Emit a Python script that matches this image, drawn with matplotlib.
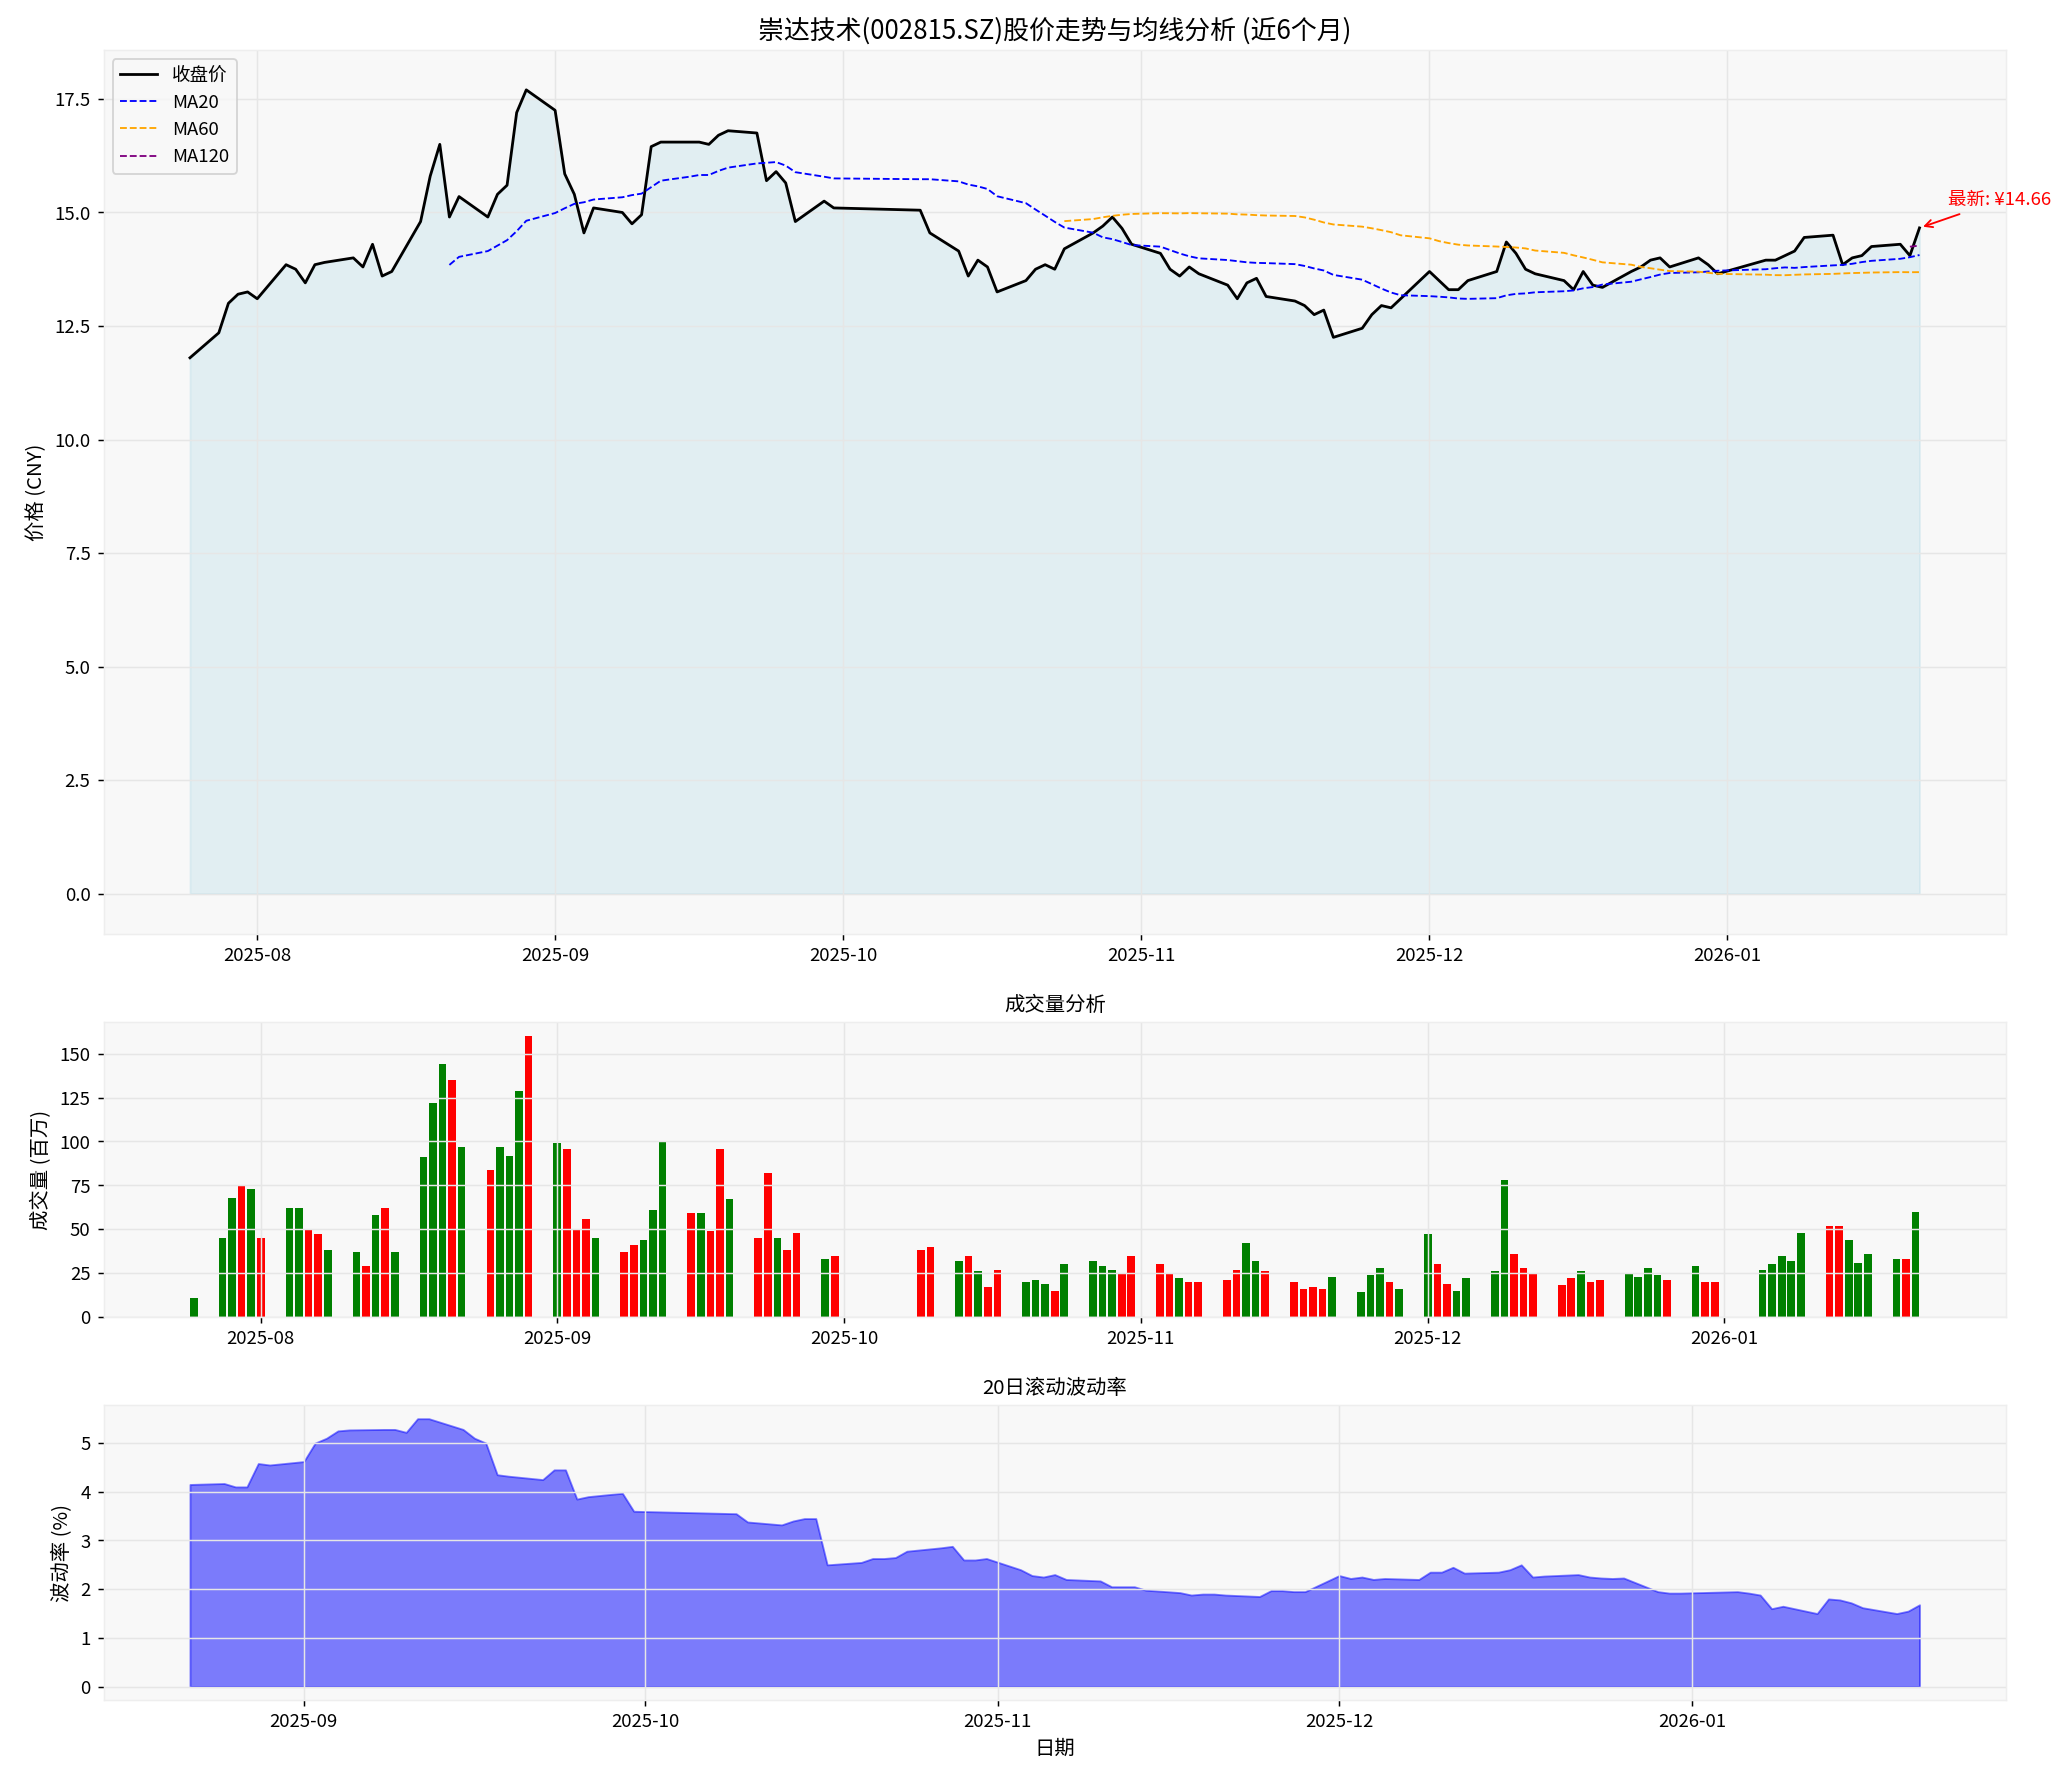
import matplotlib
matplotlib.use("Agg")
import matplotlib.pyplot as plt
import matplotlib.dates as mdates
import numpy as np
import pandas as pd

plt.rcParams['font.family'] = ['Noto Sans CJK SC', 'DejaVu Sans']
plt.rcParams['axes.unicode_minus'] = False

# trading calendar (China A-share), 2025-07-25 .. 2026-01-21
holidays = pd.to_datetime(['2025-10-01', '2025-10-02', '2025-10-03', '2025-10-06',
                           '2025-10-07', '2025-10-08', '2026-01-01', '2026-01-02'])
dates = pd.bdate_range('2025-07-25', '2026-01-21')
dates = dates[~dates.isin(holidays)]

close = [
    11.8,
    12.35, 13.0, 13.2, 13.25, 13.1,
    13.85, 13.75, 13.45, 13.85, 13.9,
    14.0, 13.8, 14.3, 13.6, 13.7,
    14.8, 15.8, 16.5, 14.9, 15.35,
    14.9, 15.4, 15.6, 17.2, 17.7,
    17.25, 15.85, 15.4, 14.55, 15.1,
    15.0, 14.75, 14.95, 16.45, 16.55,
    16.55, 16.55, 16.5, 16.7, 16.8,
    16.75, 15.7, 15.9, 15.65, 14.8,
    15.25, 15.1,
    15.05, 14.55,
    14.15, 13.6, 13.95, 13.8, 13.25,
    13.5, 13.75, 13.85, 13.75, 14.2,
    14.55, 14.7, 14.9, 14.65, 14.3,
    14.1, 13.75, 13.6, 13.8, 13.65,
    13.4, 13.1, 13.45, 13.55, 13.15,
    13.05, 12.95, 12.75, 12.85, 12.25,
    12.45, 12.75, 12.95, 12.9, 13.1,
    13.7, 13.5, 13.3, 13.3, 13.5,
    13.7, 14.35, 14.1, 13.75, 13.65,
    13.5, 13.3, 13.7, 13.4, 13.35,
    13.7, 13.8, 13.95, 14.0, 13.8,
    14.0, 13.85, 13.65,
    13.95, 13.95, 14.05, 14.15, 14.45,
    14.5, 13.85, 14.0, 14.05, 14.25,
    14.3, 14.05, 14.66,
]

volume = [
    11,
    45, 68, 75, 73, 45,
    62, 62, 50, 47, 38,
    37, 29, 58, 62, 37,
    91, 122, 144, 135, 97,
    84, 97, 92, 129, 160,
    99, 96, 50, 56, 45,
    37, 41, 44, 61, 100,
    59, 59, 49, 96, 67,
    45, 82, 45, 38, 48,
    33, 35,
    38, 40,
    32, 35, 26, 17, 27,
    20, 21, 19, 15, 30,
    32, 29, 27, 25, 35,
    30, 25, 22, 20, 20,
    21, 27, 42, 32, 26,
    20, 16, 17, 16, 23,
    14, 24, 28, 20, 16,
    47, 30, 19, 15, 22,
    26, 78, 36, 28, 25,
    18, 22, 26, 20, 21,
    25, 23, 28, 24, 21,
    29, 20, 20,
    27, 30, 35, 32, 48,
    52, 52, 44, 31, 36,
    33, 33, 60,
]

# G = up day (green), R = down day (red)
vol_colors = ("G" "GGRGR" "GGRRG" "GRGRG" "GGGRG" "RGGGR" "GRRRG" "RRGGG" "RGRRG"
              "RRGRR" "GR" "RR" "GRGRR" "GGGRG" "GGGRR" "RRGRR" "RRGGR" "RRRRG"
              "GGGRG" "GRRGG" "GGRRR" "RRGRR" "GGGGR" "GRR" "GGGGG" "RRGGG" "GRG")

volatility = [
    4.15,
    4.17, 4.1, 4.1, 4.58, 4.55,
    4.62, 5.0, 5.1, 5.25, 5.27,
    5.28, 5.28, 5.22, 5.5, 5.5,
    5.28, 5.1, 5.0, 4.35, 4.32,
    4.25, 4.45, 4.45, 3.85, 3.9,
    3.97, 3.6,
    3.55, 3.38,
    3.32, 3.4, 3.45, 3.45, 2.5,
    2.55, 2.63, 2.63, 2.65, 2.78,
    2.85, 2.88, 2.6, 2.6, 2.63,
    2.4, 2.28, 2.25, 2.3, 2.2,
    2.17, 2.05, 2.05, 2.05, 1.98,
    1.93, 1.88, 1.9, 1.9, 1.88,
    1.85, 1.97, 1.97, 1.95, 1.95,
    2.28, 2.22, 2.25, 2.2, 2.22,
    2.2, 2.35, 2.35, 2.45, 2.33,
    2.35, 2.4, 2.5, 2.25, 2.27,
    2.3, 2.25, 2.23, 2.22, 2.23,
    1.95, 1.92, 1.92,
    1.95, 1.92, 1.88, 1.6, 1.65,
    1.5, 1.8, 1.78, 1.72, 1.62,
    1.5, 1.55, 1.68,
]

df = pd.DataFrame({'close': close, 'volume': volume}, index=dates)
df['MA20'] = df['close'].rolling(20).mean()
df['MA60'] = df['close'].rolling(60).mean()
df['MA120'] = df['close'].rolling(120).mean()
vol_dates = dates[len(dates) - len(volatility):]

fig = plt.figure(figsize=(15.53, 13.37), dpi=133.3)
gs = fig.add_gridspec(3, 1, height_ratios=[3, 1, 1], hspace=0.18,
                      left=0.05, right=0.969, top=0.972, bottom=0.046)
ax1 = fig.add_subplot(gs[0])
ax2 = fig.add_subplot(gs[1])
ax3 = fig.add_subplot(gs[2])

for ax in (ax1, ax2, ax3):
    ax.set_facecolor('#f8f8f8')
    ax.grid(True, color='#e6e6e6', linewidth=0.8)
    for s in ax.spines.values():
        s.set_color('#eeeeee')
    ax.xaxis.set_major_locator(mdates.MonthLocator())
    ax.xaxis.set_major_formatter(mdates.DateFormatter('%Y-%m'))

ax1.plot(df.index, df['close'], color='black', lw=1.5, label='收盘价')
ax1.plot(df.index, df['MA20'], color='blue', lw=1, ls='--', label='MA20')
ax1.plot(df.index, df['MA60'], color='orange', lw=1, ls='--', label='MA60')
ax1.plot(df.index, df['MA120'], color='purple', lw=1, ls='--', label='MA120')
ax1.fill_between(df.index, df['close'], 0, color='lightblue', alpha=0.3)
last = df.index[-1]
ax1.annotate(f'最新: ¥{close[-1]:.2f}', xy=(last, close[-1]),
             xytext=(last + pd.Timedelta(days=3), close[-1] + 0.5),
             color='red', fontsize=10,
             arrowprops=dict(arrowstyle='->', color='red'))
ax1.set_title('崇达技术(002815.SZ)股价走势与均线分析 (近6个月)', fontsize=14)
ax1.set_ylabel('价格 (CNY)', fontsize=11)
ax1.legend(loc='upper left', fontsize=10, facecolor='#f8f8f8')

colors = ['green' if c == 'G' else 'red' for c in vol_colors]
ax2.bar(df.index, df['volume'], color=colors, width=0.8)
ax2.set_title('成交量分析', fontsize=11)
ax2.set_ylabel('成交量 (百万)', fontsize=11)

ax3.fill_between(vol_dates, volatility, 0, color='blue', alpha=0.5)
ax3.set_title('20日滚动波动率', fontsize=11)
ax3.set_ylabel('波动率 (%)', fontsize=11)
ax3.set_xlabel('日期', fontsize=11)

fig.savefig('out.png')
